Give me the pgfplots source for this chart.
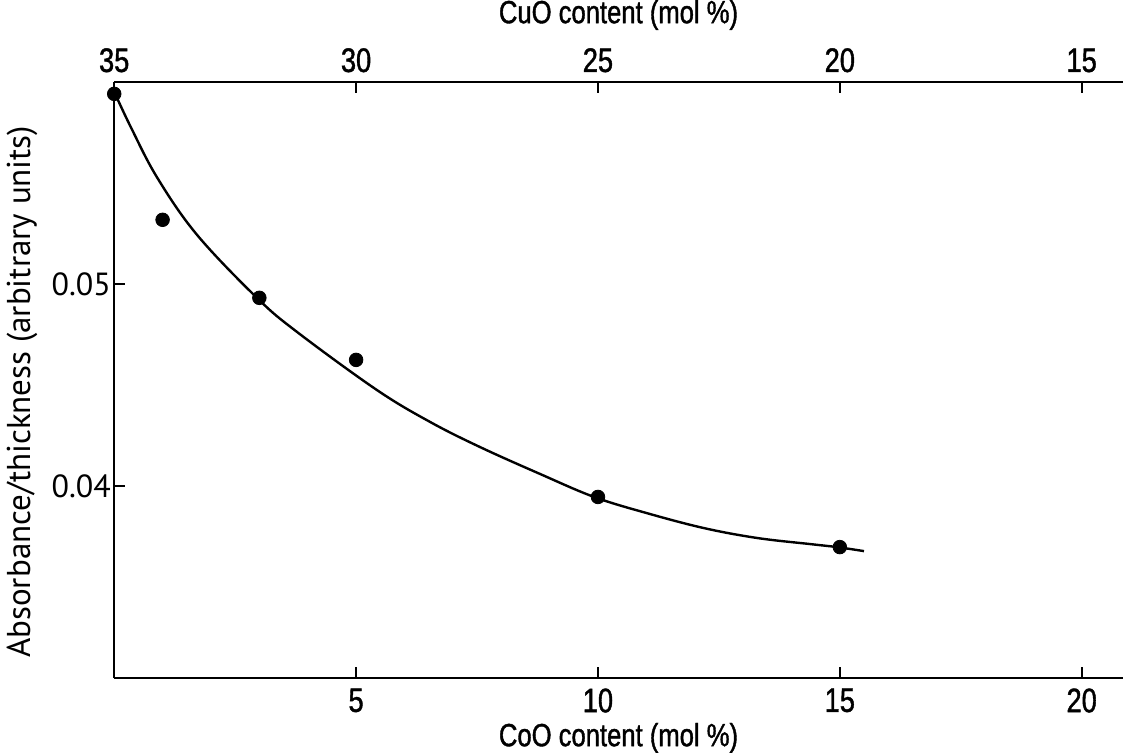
\documentclass[border=0pt]{standalone}
\usepackage{pgfplots}
\pgfplotsset{compat=1.18}
\usepackage{fontspec}
\setmainfont{PT Sans}
\newfontfamily\condfont[FakeStretch=0.8, FakeBold=1.2]{Liberation Sans}

\pgfplotstableread{
x y
0 0.0595
0.35 0.05772
0.89 0.05525
1.71 0.05243
2.95 0.04931
3.78 0.04762
5.43 0.04475
6.53 0.04317
7.56 0.04193
8.80 0.04060
9.92 0.03946
11.01 0.03866
12.19 0.03792
13.29 0.03743
14.38 0.03713
14.94 0.03698
15.5 0.03678
}\curvedata

\pgfplotstableread{
x y
0 0.0594
1 0.05317
3 0.04931
5 0.04624
10 0.03946
15 0.03698
}\pointdata

\begin{document}
\begin{tikzpicture}
\pgfplotsset{
  common/.style={
    scale only axis,
    width=504pt, height=298pt,
    xmin=0, xmax=20.85, ymin=0.0305, ymax=0.06,
    axis line style={-, line width=1.2pt},
    tick align=inside,
    major tick length=5.5pt,
    tick style={line width=1pt, black},
    scaled y ticks=false,
    clip=false,
  }
}
\begin{axis}[
  common,
  axis x line*=bottom, axis y line*=left,
  xtick={5,10,15,20}, xticklabels={5,10,15,20},
  xticklabel style={font=\condfont\fontsize{17}{17}\selectfont, inner sep=1pt, yshift=-4pt},
  ytick={0.04,0.05}, yticklabels={0.04,0.05},
  yticklabel style={font=\fontsize{16}{16}\selectfont, inner sep=1.5pt},
  xlabel={CoO content (mol \%)},
  xlabel style={font=\condfont\fontsize{16}{16}\selectfont, inner sep=0pt, yshift=-4pt},
  ylabel={Absorbance/thickness (arbitrary units)},
  every axis y label/.style={at={(rel axis cs:0,0.48)}, xshift=-42pt, rotate=90, anchor=base, font=\fontsize{16.5}{16.5}\selectfont},
]
\addplot[black, line width=1.2pt, smooth, tension=0.6] table[x=x,y=y] {\curvedata};
\addplot[only marks, mark=*, mark size=3.4pt, black] table[x=x,y=y] {\pointdata};
\end{axis}
\begin{axis}[
  common,
  axis x line*=top, axis y line=none,
  xtick={0,5,10,15,20}, xticklabels={35,30,25,20,15},
  xticklabel style={font=\condfont\fontsize{17}{17}\selectfont, inner sep=1pt, yshift=3.5pt},
  xlabel={CuO content (mol \%)},
  xlabel style={font=\condfont\fontsize{16}{16}\selectfont, inner sep=0pt, yshift=8pt},
]
\end{axis}
\end{tikzpicture}
\end{document}
